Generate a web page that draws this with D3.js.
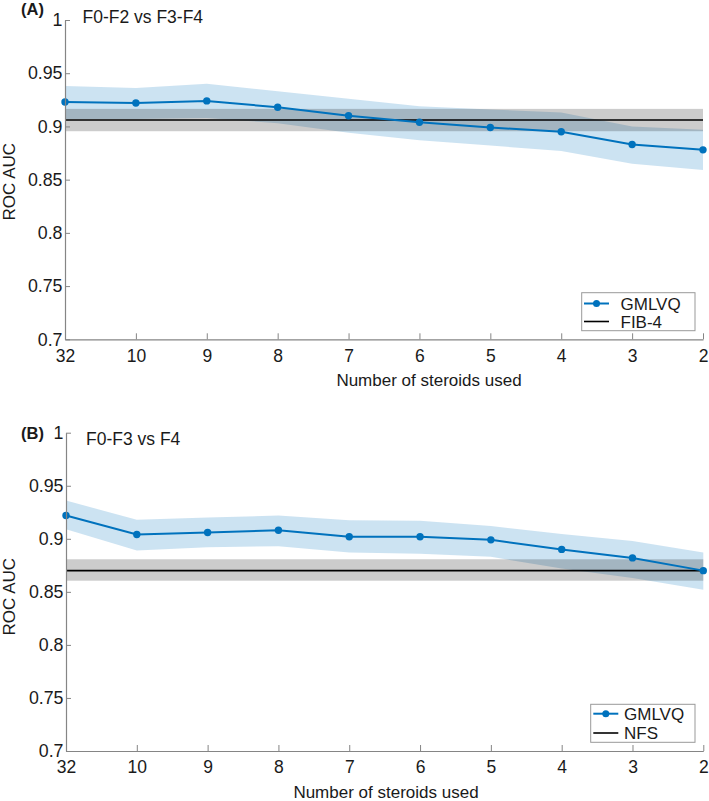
<!DOCTYPE html>
<html>
<head>
<meta charset="utf-8">
<script src="https://cdn.jsdelivr.net/npm/d3@7"></script>
<style>
  html, body { margin: 0; padding: 0; background: #fff; }
  svg { display: block; }
  text { font-family: "Liberation Sans", Arial, Helvetica, sans-serif; fill: #1a1a1a; }
</style>
</head>
<body>
<svg id="chart" width="709" height="801"></svg>
<script>
// ---------- data ----------
const categories = ["32", "10", "9", "8", "7", "6", "5", "4", "3", "2"];
const yTickValues = [0.7, 0.75, 0.8, 0.85, 0.9, 0.95, 1];
const yTickLabels = ["0.7", "0.75", "0.8", "0.85", "0.9", "0.95", "1"];

// Panel A: F0-F2 vs F3-F4
const aMean  = [0.923, 0.922, 0.924, 0.918, 0.910, 0.904, 0.899, 0.895, 0.883, 0.878];
const aUpper = [0.938, 0.936, 0.940, 0.933, 0.926, 0.919, 0.916, 0.913, 0.900, 0.897];
const aLower = [0.907, 0.907, 0.908, 0.903, 0.894, 0.887, 0.882, 0.877, 0.865, 0.859];
const aRef = 0.906, aRefLo = 0.8955, aRefHi = 0.9165;

// Panel B: F0-F3 vs F4
const bMean  = [0.922, 0.904, 0.906, 0.908, 0.902, 0.902, 0.899, 0.890, 0.882, 0.870];
const bUpper = [0.936, 0.918, 0.920, 0.922, 0.9175, 0.917, 0.912, 0.9045, 0.898, 0.887];
const bLower = [0.909, 0.889, 0.892, 0.893, 0.887, 0.886, 0.883, 0.872, 0.863, 0.852];
const bRef = 0.870, bRefLo = 0.8605, bRefHi = 0.8807;

const panels = [
  { tag: "(A)", title: "F0-F2 vs F3-F4", mean: aMean, upper: aUpper, lower: aLower,
    ref: aRef, refLo: aRefLo, refHi: aRefHi, refName: "FIB-4",
    x0: 65, x1: 703, yTop: 20, yBot: 339.3, tagY: 15, titleX: 82.5, titleY: 22.7,
    xLabelX: 429, xLabelY: 386, yLabelY: 181.7,
    legend: { x: 581.7, y: 292.7, w: 113.3, h: 38, lineX0: 584, lineX1: 609, textX: 620.5, row1: 303.5, row2: 321.5 } },
  { tag: "(B)", title: "F0-F3 vs F4", mean: bMean, upper: bUpper, lower: bLower,
    ref: bRef, refLo: bRefLo, refHi: bRefHi, refName: "NFS",
    x0: 66, x1: 703.3, yTop: 432.7, yBot: 751, tagY: 439, titleX: 86, titleY: 445,
    xLabelX: 386, xLabelY: 798, yLabelY: 596.7,
    legend: { x: 590.7, y: 704.3, w: 104.3, h: 38, lineX0: 593.3, lineX1: 618.3, textX: 624, row1: 713.7, row2: 733 } }
];

const blue = "#0072BD";
const axisColor = "#858585";
const fontSize = 17;

const svg = d3.select("#chart");

panels.forEach(p => {
  const g = svg.append("g");
  const x = d3.scalePoint().domain(categories).range([p.x0, p.x1]).padding(0);
  const y = d3.scaleLinear().domain([0.7, 1]).range([p.yBot, p.yTop]);

  const rows = categories.map((c, i) => ({ c, m: p.mean[i], u: p.upper[i], l: p.lower[i] }));

  // blue confidence band
  g.append("path")
    .datum(rows)
    .attr("d", d3.area().x(d => x(d.c)).y0(d => y(d.l)).y1(d => y(d.u)))
    .attr("fill", blue).attr("fill-opacity", 0.2);

  // gray reference band
  g.append("rect")
    .attr("x", p.x0).attr("width", p.x1 - p.x0)
    .attr("y", y(p.refHi)).attr("height", y(p.refLo) - y(p.refHi))
    .attr("fill", "#000").attr("fill-opacity", 0.2);

  // reference line
  g.append("line")
    .attr("x1", p.x0).attr("x2", p.x1)
    .attr("y1", y(p.ref)).attr("y2", y(p.ref))
    .attr("stroke", "#000").attr("stroke-width", 1.6);

  // GMLVQ line + markers
  g.append("path")
    .datum(rows)
    .attr("d", d3.line().x(d => x(d.c)).y(d => y(d.m)))
    .attr("fill", "none").attr("stroke", blue).attr("stroke-width", 2);
  g.selectAll("circle.pt").data(rows).join("circle")
    .attr("class", "pt")
    .attr("cx", d => x(d.c)).attr("cy", d => y(d.m)).attr("r", 3.7)
    .attr("fill", blue);

  // axes
  const yAxis = d3.axisLeft(y).tickValues(yTickValues)
    .tickFormat((d, i) => yTickLabels[i]).tickSizeInner(-5).tickSizeOuter(0).tickPadding(8);
  const ya = g.append("g").attr("transform", `translate(${p.x0},0)`).call(yAxis);
  ya.select(".domain").attr("stroke", axisColor).attr("stroke-width", 1.2);
  ya.selectAll(".tick line").attr("stroke", axisColor);
  ya.selectAll(".tick text").attr("font-size", 17.8).attr("x", -2.5)
    .attr("font-family", "'Liberation Sans', Arial, sans-serif").attr("fill", "#1a1a1a");

  const xAxis = d3.axisBottom(x).tickSizeInner(-6).tickSizeOuter(0).tickPadding(10);
  const xa = g.append("g").attr("transform", `translate(0,${p.yBot})`).call(xAxis);
  xa.select(".domain").attr("stroke", axisColor).attr("stroke-width", 1.2);
  xa.selectAll(".tick line").attr("stroke", axisColor);
  xa.selectAll(".tick text").attr("font-size", 17.5).attr("y", 10).attr("dy", "0.71em")
    .attr("font-family", "'Liberation Sans', Arial, sans-serif").attr("fill", "#1a1a1a");

  // labels
  g.append("text").attr("x", p.xLabelX).attr("y", p.xLabelY)
    .attr("text-anchor", "middle").attr("font-size", fontSize)
    .text("Number of steroids used");
  g.append("text")
    .attr("transform", `translate(15,${p.yLabelY}) rotate(-90)`)
    .attr("text-anchor", "middle").attr("font-size", fontSize)
    .text("ROC AUC");
  g.append("text").attr("x", 21).attr("y", p.tagY)
    .attr("font-size", 16.5).attr("font-weight", "bold").text(p.tag);
  g.append("text").attr("x", p.titleX).attr("y", p.titleY)
    .attr("font-size", 17.5).text(p.title);

  // legend
  const L = p.legend;
  const lg = g.append("g");
  lg.append("rect").attr("x", L.x).attr("y", L.y).attr("width", L.w).attr("height", L.h)
    .attr("fill", "#fff").attr("stroke", "#999").attr("stroke-width", 1);
  lg.append("line").attr("x1", L.lineX0).attr("x2", L.lineX1).attr("y1", L.row1).attr("y2", L.row1)
    .attr("stroke", blue).attr("stroke-width", 2);
  lg.append("circle").attr("cx", (L.lineX0 + L.lineX1) / 2).attr("cy", L.row1).attr("r", 3.5).attr("fill", blue);
  lg.append("text").attr("x", L.textX).attr("y", L.row1).attr("dy", "0.36em")
    .attr("font-size", fontSize).text("GMLVQ");
  lg.append("line").attr("x1", L.lineX0).attr("x2", L.lineX1).attr("y1", L.row2).attr("y2", L.row2)
    .attr("stroke", "#000").attr("stroke-width", 1.6);
  lg.append("text").attr("x", L.textX).attr("y", L.row2).attr("dy", "0.36em")
    .attr("font-size", fontSize).text(p.refName);
});
</script>
</body>
</html>
